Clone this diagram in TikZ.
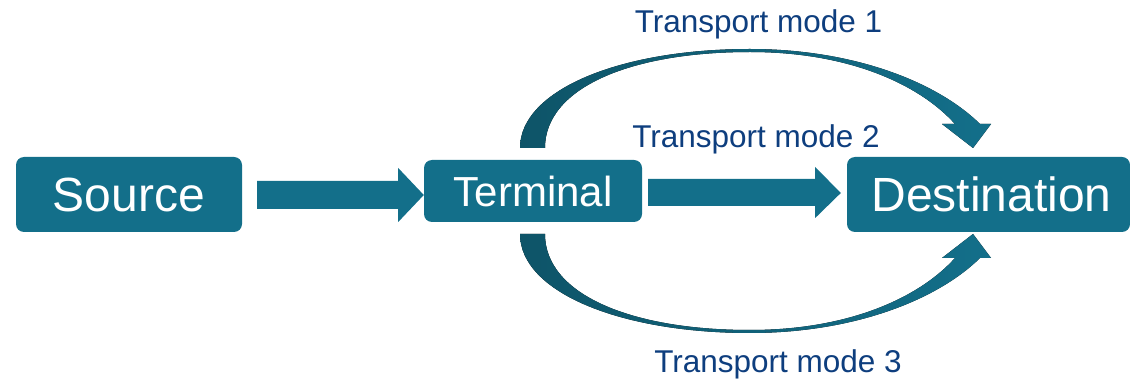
\documentclass[tikz,border=0pt]{standalone}
\usepackage{fontspec}
\setmainfont{Liberation Sans}
\usetikzlibrary{calc}
\definecolor{boxblue}{RGB}{19,111,138}
\definecolor{arcdark}{RGB}{14,84,104}
\definecolor{labelblue}{RGB}{14,62,126}
\begin{document}
\begin{tikzpicture}[x=1pt,y=-1pt,
  box/.style={fill=boxblue,rounded corners=8pt,inner sep=0pt,text=white},
  lbl/.style={text=labelblue,anchor=base,inner sep=0pt,font=\fontsize{31.5}{34}\selectfont},
  blockarrow/.style={fill=boxblue,draw=none},
  arcarrow/.style={left color=arcdark,right color=boxblue,draw=none}]
\useasboundingbox (0,0) rectangle (1130,379);
% boxes
\node[box,minimum width=226pt,minimum height=75pt,font=\fontsize{48}{50}\selectfont] (src) at (129,194.5) {Source};
\node[box,minimum width=218pt,minimum height=62pt,font=\fontsize{42}{44}\selectfont] (term) at (533,191) {Terminal};
\node[box,minimum width=283pt,minimum height=75pt,font=\fontsize{48}{50}\selectfont,text width=283pt,align=center] (dst) at (988.5,194.5) {\hspace*{6pt}Destination};
% straight block arrows
\fill[blockarrow] ($(src.east)+(15,-13.5)$) -- ++(141,0) -- ++(0,-13) -- ($(term.west)+(0,4)$)
  -- ($(src.east)+(156,27.5)$) -- ++(0,-13) -- ($(src.east)+(15,14.5)$) -- cycle;
\fill[blockarrow] ($(term.east)+(6,-12)$) -- ++(167,0) -- ++(0,-12) -- ($(dst.west)+(-6,-1.5)$)
  -- ($(term.east)+(173,27)$) -- ++(0,-12) -- ($(term.east)+(6,15)$) -- cycle;
% curved arrows
\fill[arcarrow] (520,148) .. controls (520,90) and (620,49) .. (750,49)
  .. controls (850,49) and (935,80) .. (980,124) -- (991,124) -- (973,148) -- (942,124) -- (955,124)
  .. controls (920,85) and (850,52) .. (750,52)
  .. controls (630,52) and (545,88) .. (545,148) -- cycle;
\fill[arcarrow] (520,234) .. controls (520,292) and (620,333) .. (750,333)
  .. controls (850,333) and (935,302) .. (980,258) -- (991,258) -- (973,234) -- (942,258) -- (955,258)
  .. controls (920,297) and (850,330) .. (750,330)
  .. controls (630,330) and (545,294) .. (545,234) -- cycle;
% labels
\node[lbl] (l1) at (758.5,33) {Transport mode 1};
\node[lbl] (l2) at (756,148) {Transport mode 2};
\node[lbl] (l3) at (778,372) {Transport mode 3};
\end{tikzpicture}
\end{document}
